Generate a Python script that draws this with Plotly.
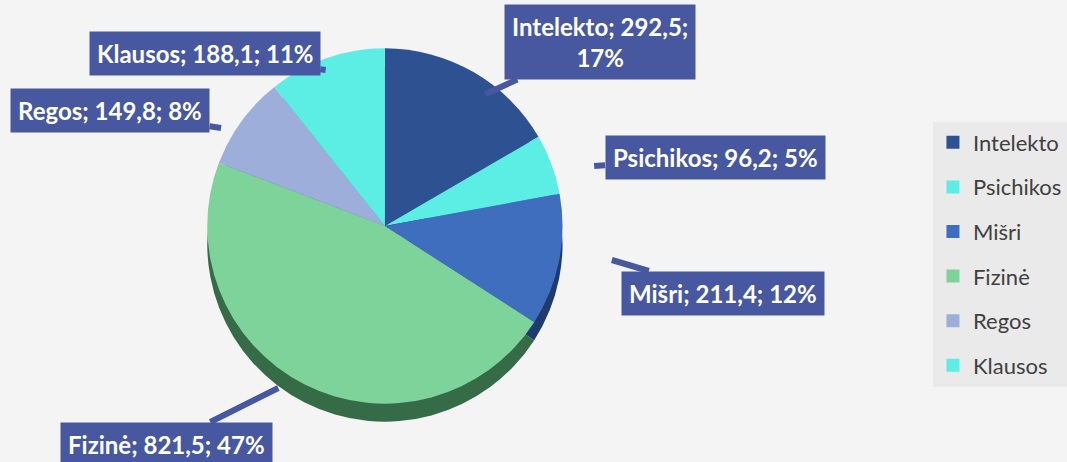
import plotly.graph_objects as go

categories = ["Intelekto", "Psichikos", "Mišri", "Fizinė", "Regos", "Klausos"]
values = [292.5, 96.2, 211.4, 821.5, 149.8, 188.1]
value_labels = ["292,5", "96,2", "211,4", "821,5", "149,8", "188,1"]
percent_labels = ["17%", "5%", "12%", "47%", "8%", "11%"]
top_colors = ["#2E5192", "#5CEDE4", "#3F6EBF", "#7DD39A", "#9EAEDB", "#5CEDE4"]
side_colors = ["#1B3263", "#33A7A0", "#1E3A70", "#356B47", "#66739F", "#33A7A0"]

W, H = 1067, 462
# label box centers and pointer targets (pixels)
label_pos = {
    "Intelekto": ((606, 42), (492, 94)),
    "Psichikos": ((723, 158), (602, 166)),
    "Mišri": ((731, 293), (620, 260)),
    "Fizinė": ((170, 444), (282, 388)),
    "Regos": ((113, 111), (224, 128)),
    "Klausos": ((209, 54), (330, 70)),
}

fig = go.Figure()

cx, cy, d, depth = 390, 226, 360, 18
def dom(offset):
    x0 = (cx - d / 2) / W
    x1 = (cx + d / 2) / W
    y0 = 1 - (cy + d / 2 + offset) / H
    y1 = 1 - (cy - d / 2 + offset) / H
    return dict(x=[x0, x1], y=[y0, y1])

# side (depth) layer
fig.add_trace(go.Pie(labels=categories, values=values, sort=False, direction="clockwise",
                     rotation=0, marker=dict(colors=side_colors, line=dict(width=0)),
                     textinfo="none", hoverinfo="skip", showlegend=False, domain=dom(depth)))
# top layer
fig.add_trace(go.Pie(labels=categories, values=values, sort=False, direction="clockwise",
                     rotation=0, marker=dict(colors=top_colors, line=dict(width=0)),
                     textinfo="none", hoverinfo="label+value+percent", showlegend=False,
                     domain=dom(0)))

# legend entries
for c, col in zip(categories, top_colors):
    fig.add_trace(go.Scatter(x=[None], y=[None], mode="markers", name=c, legendgroup=c,
                             marker=dict(symbol="square", size=13, color=col)))

for c, vl, pl in zip(categories, value_labels, percent_labels):
    if c == "Intelekto":
        txt = f"<b>{c}; {vl};<br>{pl}</b>"
    else:
        txt = f"<b>{c}; {vl}; {pl}</b>"
    (bx, by), (px, py) = label_pos[c]
    fig.add_annotation(x=px / W, y=1 - py / H, xref="paper", yref="paper",
                       ax=bx - px, ay=by - py, text=txt, showarrow=True,
                       arrowhead=0, arrowwidth=6, arrowcolor="#4858A0", standoff=0,
                       bgcolor="#4858A0", borderpad=7,
                       font=dict(family="Lato", size=24, color="white"))

fig.update_layout(
    width=W, height=H, margin=dict(l=0, r=0, t=0, b=0),
    paper_bgcolor="#F4F4F4", plot_bgcolor="rgba(0,0,0,0)",
    xaxis=dict(visible=False), yaxis=dict(visible=False),
    showlegend=True,
    legend=dict(x=0.886, y=0.737, xanchor="left", yanchor="top",
                bgcolor="#EAEAEA", tracegroupgap=13,
                font=dict(family="Lato", size=22, color="#404040"),
                itemwidth=30),
)

fig.write_html("out.html", post_script="document.body.style.margin='0';",
               config={"displayModeBar": False})
